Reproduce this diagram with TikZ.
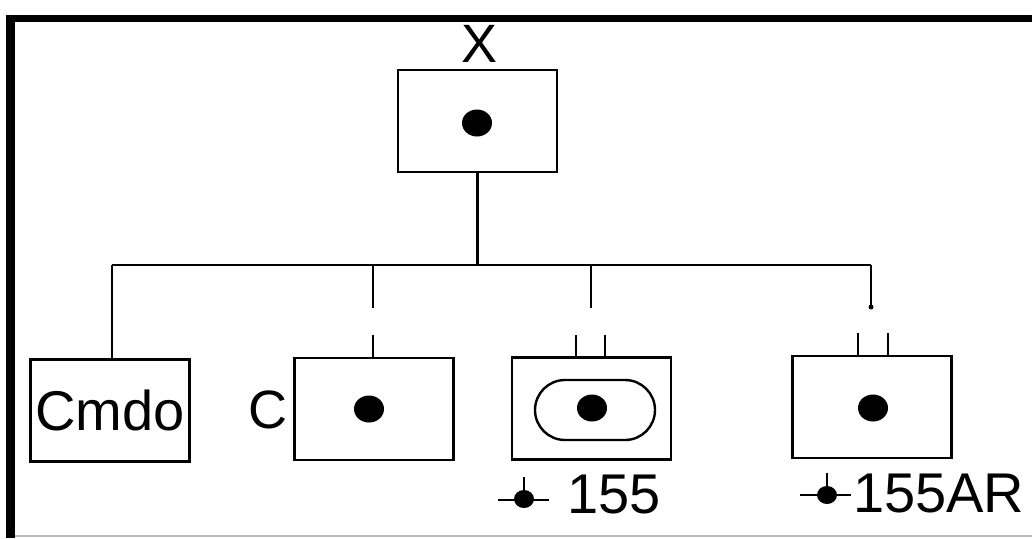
\documentclass[tikz,border=0pt]{standalone}
\usepackage{fontspec}
\setmainfont{Liberation Sans}
\usetikzlibrary{shapes.geometric}
\begin{document}
\begin{tikzpicture}[x=1pt,y=-1pt,
  unit/.style={draw, line width=2.6pt, minimum width=159pt, minimum height=102pt, inner sep=0pt},
  spot/.style={ellipse, fill=black, minimum width=30pt, minimum height=27pt, inner sep=0pt},
  wire/.style={line width=2.2pt},
  lbl/.style={inner sep=0pt, font=\fontsize{54}{60}\selectfont},
  gland/.style={fill=black, ellipse, minimum width=20pt, minimum height=18pt, inner sep=0pt}]
  \useasboundingbox (0,0) rectangle (1032,538);
  \fill[white] (0,0) rectangle (1032,538);

  % title letter, partly under the frame
  \node[lbl] (xl) at (480,44) {X};

  % frame: heavy top and left rules, faint bottom rule
  \fill[black] (6,15) rectangle (1032,22);
  \fill[black] (6,15) rectangle (15,538);
  \draw[gray!55, line width=1.5pt] (15,536) -- (1032,536);

  % boxes
  \node[unit] (top)  at (477.5,121) {};
  \node[unit] (cmdo) at (110,410.5) {};
  \node[unit] (cbox) at (374,409) {};
  \node[unit] (b155) at (591.5,408.5) {};
  \node[unit] (bar)  at (872,407) {};

  % dots inside boxes
  \node[spot] (dtop) at (477,123) {};
  \node[spot] (dc)   at (369,409) {};
  \node[draw, line width=2.4pt, minimum width=120pt, minimum height=60pt,
        rounded corners=30pt, inner sep=0pt] (cap) at (595,410) {};
  \node[spot] (d155) at (592,408) {};
  \node[spot] (dar)  at (873,408) {};

  % text
  \node[inner sep=0pt, font=\fontsize{56}{60}\selectfont] (tcmdo) at (cmdo) {Cmdo};
  \node[lbl] (tc) at (268,410) {C};
  \node[lbl, anchor=base west, font=\fontsize{56}{60}\selectfont] (t155) at (567,513) {155};
  \node[lbl, anchor=base west, font=\fontsize{56}{60}\selectfont] (tar) at (853,512) {155AR};

  % bus
  \coordinate (busL) at (112,265);
  \coordinate (busR) at (871,265);
  \draw[wire] (busL) -- (busR);
  \draw[wire] (top.south) -- (top.south |- busL);
  \draw[wire] (busL) -- (busL |- cmdo.north);

  % C branch, broken
  \coordinate (ca) at (373,265);
  \coordinate (cb) at (373,308);
  \coordinate (cc) at (373,335);
  \draw[wire] (ca) -- (cb);
  \draw[wire] (cc) -- (cc |- cbox.north);

  % 155 branch, broken, two stubs
  \coordinate (pa) at (591,265);
  \coordinate (pb) at (591,308);
  \coordinate (ps1) at (576,335);
  \coordinate (ps2) at (605,335);
  \draw[wire] (pa) -- (pb);
  \draw[wire] (ps1) -- (ps1 |- b155.north);
  \draw[wire] (ps2) -- (ps2 |- b155.north);

  % 155AR branch, broken, two stubs
  \coordinate (ra) at (871,307);
  \coordinate (rs1) at (858,333);
  \coordinate (rs2) at (888,333);
  \draw[wire] (busR) -- (ra);
  \fill (ra) circle (2.5);
  \draw[wire] (rs1) -- (rs1 |- bar.north);
  \draw[wire] (rs2) -- (rs2 |- bar.north);

  % gland symbols beside the numbers
  \node[gland] (g1) at (524,499) {};
  \draw[line width=2pt] (498,500) -- (549,500);
  \draw[line width=2pt] (g1.center) -- (524,477);
  \node[gland] (g2) at (827,495) {};
  \draw[line width=2pt] (800,495) -- (851,495);
  \draw[line width=2pt] (g2.center) -- (827,473);
\end{tikzpicture}
\end{document}
